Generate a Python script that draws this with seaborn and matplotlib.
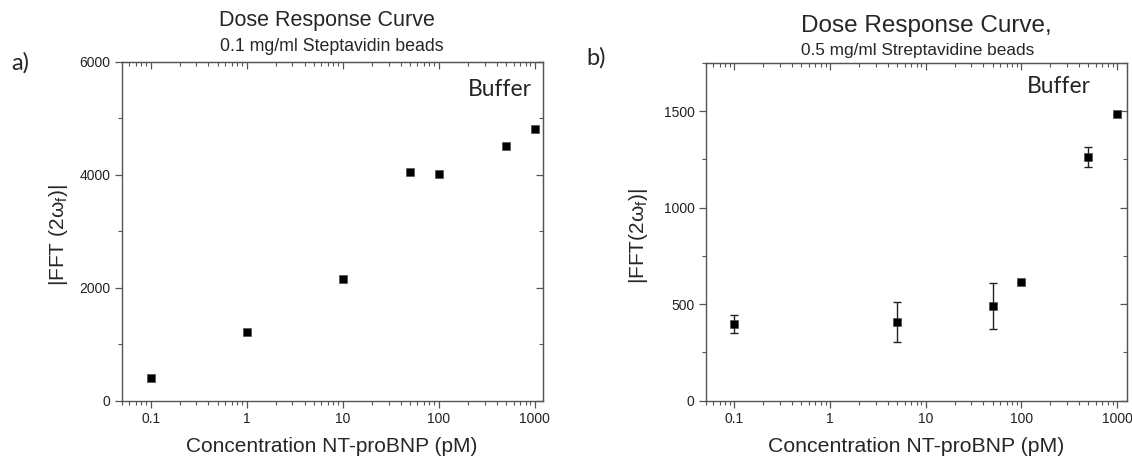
import numpy as np
import pandas as pd
import seaborn as sns
import matplotlib.pyplot as plt
from matplotlib import ticker

# data
conc_a = [0.1, 1, 10, 50, 100, 500, 1000]
fft_a = [407, 1221, 2155, 4053, 4007, 4510, 4804]

conc_b = [0.1, 5, 50, 100, 500, 1000]
fft_b = [398, 408, 491, 613, 1262, 1487]
err_b = [45, 106, 117, 0, 52, 0]

x_ticks = [0.1, 1, 10, 100, 1000]
y_ticks_a = [0, 2000, 4000, 6000]
y_ticks_b = [0, 500, 1000, 1500]

sns.set_style('ticks')
plt.rcParams['font.family'] = ['Liberation Sans', 'DejaVu Sans']
plt.rcParams['mathtext.fontset'] = 'custom'
plt.rcParams['mathtext.rm'] = 'Liberation Sans'
plt.rcParams['mathtext.it'] = 'Liberation Sans:italic'

W, H = 1132, 457
fig = plt.figure(figsize=(W / 100, H / 100), dpi=100)


def px_axes(x0, y0, x1, y1):
    return fig.add_axes([x0 / W, 1 - y1 / H, (x1 - x0) / W, (y1 - y0) / H])


ax_a = px_axes(121.7, 61.7, 543.3, 400.7)
ax_b = px_axes(705.7, 63, 1127, 400.7)

df_a = pd.DataFrame({'conc': conc_a, 'fft': fft_a})
df_b = pd.DataFrame({'conc': conc_b, 'fft': fft_b, 'err': err_b})

ax_b.errorbar(df_b['conc'], df_b['fft'], yerr=df_b['err'], fmt='none',
              ecolor='#222222', elinewidth=1, capsize=3, capthick=1, zorder=2)
sns.scatterplot(data=df_a, x='conc', y='fft', marker='s', s=30, color='black',
                edgecolor='#444444', linewidth=0.4, ax=ax_a, zorder=3)
sns.scatterplot(data=df_b, x='conc', y='fft', marker='s', s=30, color='black',
                edgecolor='#444444', linewidth=0.4, ax=ax_b, zorder=3)

spine_col = '#555555'
tick_col = '#222222'


def style(ax, xlim, ylim, yticks, ymin_step):
    ax.set_xscale('log')
    ax.set_xlim(*xlim)
    ax.set_ylim(*ylim)
    ax.set_xticks(x_ticks)
    ax.xaxis.set_major_formatter(ticker.FuncFormatter(lambda v, p: f'{v:g}'))
    ax.xaxis.set_minor_locator(ticker.LogLocator(base=10, subs=np.arange(2, 10)))
    ax.xaxis.set_minor_formatter(ticker.NullFormatter())
    ax.set_yticks(yticks)
    ax.yaxis.set_minor_locator(ticker.MultipleLocator(ymin_step))
    for s in ax.spines.values():
        s.set_visible(True)
        s.set_color(spine_col)
        s.set_linewidth(1)
    ax.tick_params(which='major', direction='out', length=5, width=0.9,
                   color=spine_col, labelsize=10, labelcolor=tick_col, pad=3)
    ax.tick_params(which='minor', direction='out', length=3, width=0.8,
                   color=spine_col)
    ax.set_xlabel('')
    ax.set_ylabel('')
    # inward ticks on top and right sides
    top = ax.secondary_xaxis('top')
    top.set_xticks(x_ticks)
    top.xaxis.set_minor_locator(ticker.LogLocator(base=10, subs=np.arange(2, 10)))
    top.tick_params(which='major', direction='in', length=5, width=0.9,
                    color=spine_col, labeltop=False)
    top.tick_params(which='minor', direction='in', length=3, width=0.8,
                    color=spine_col)
    top.xaxis.set_minor_formatter(ticker.NullFormatter())
    top.spines['top'].set_color(spine_col)
    right = ax.secondary_yaxis('right')
    right.set_yticks(yticks)
    right.yaxis.set_minor_locator(ticker.MultipleLocator(ymin_step))
    right.tick_params(which='major', direction='in', length=5, width=0.9,
                      color=spine_col, labelright=False)
    right.tick_params(which='minor', direction='in', length=3, width=0.8,
                      color=spine_col)
    right.spines['right'].set_color(spine_col)


style(ax_a, (0.05, 1225), (0, 6000), y_ticks_a, 1000)
style(ax_b, (0.05, 1270), (0, 1750), y_ticks_b, 250)


def ftext(x, y, s, **kw):
    fig.text(x / W, 1 - y / H, s, **kw)


# titles
ftext(327, 26, 'Dose Response Curve', ha='center', va='baseline', fontsize=15.5)
ftext(332, 51, '0.1 mg/ml Steptavidin beads', ha='center', va='baseline', fontsize=12.8)
ftext(926, 32, 'Dose Response Curve,', ha='center', va='baseline', fontsize=17.5)
ftext(918, 55, '0.5 mg/ml Streptavidine beads', ha='center', va='baseline', fontsize=12.4)

# axis labels
ftext(332, 446, 'Concentration NT-proBNP (pM)', ha='center', va='center', fontsize=15)
ftext(916, 446, 'Concentration NT-proBNP (pM)', ha='center', va='center', fontsize=15.3)
ftext(59, 235, r'|FFT (2ω$_\mathrm{f}$)|', ha='center', va='center',
      rotation=90, fontsize=15)
ftext(639, 236, r'|FFT(2ω$_\mathrm{f}$)|', ha='center', va='center',
      rotation=90, fontsize=15)

# panel letters and annotations
ftext(11, 70, 'a)', ha='left', va='baseline', fontsize=17, family=['Lato', 'DejaVu Sans'])
ftext(586, 65, 'b)', ha='left', va='baseline', fontsize=17, family=['Lato', 'DejaVu Sans'])
ftext(468, 96, 'Buffer', ha='left', va='baseline', fontsize=16.5, family=['Lato', 'DejaVu Sans'])
ftext(1027, 93, 'Buffer', ha='left', va='baseline', fontsize=16.5, family=['Lato', 'DejaVu Sans'])

plt.savefig('out.png', dpi=100)
